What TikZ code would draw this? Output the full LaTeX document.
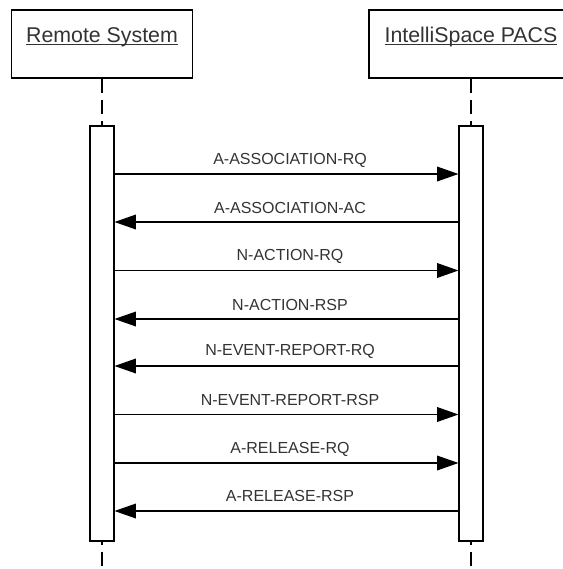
\documentclass[tikz,border=0pt]{standalone}
\usepackage{fontspec}
\setmainfont{Liberation Sans}
\usetikzlibrary{arrows.meta}
\tikzset{
  head/.style={draw, line width=1.1pt, minimum height=51pt, inner xsep=10.5pt, font=\fontsize{16}{19}\selectfont, text=black!80},
  actbar/.style={draw, fill=white, line width=0.8pt, minimum width=18pt, minimum height=311.25pt, inner sep=0pt},
  lifeline/.style={line width=0.9pt, dash pattern=on 10.5pt off 5.5pt},
  msg/.style={line width=0.9pt, -{Triangle[length=16pt,width=11pt]}},
  lbl/.style={font=\fontsize{12}{14}\selectfont, text=black!80}
}
\newcommand\ulname[1]{\underline{\smash{#1}}}

\begin{document}
\begin{tikzpicture}[x=0.75pt,y=-0.75pt]
        \useasboundingbox (0,0) rectangle (563,569);
        \node[head, minimum width=136pt] (rs) at (102,44) {\ulname{Remote System}};
        \node[head, minimum width=153pt] (pacs) at (471,44) {\ulname{IntelliSpace PACS}};

        \draw[lifeline] (rs.south) -- (102,126);
        \draw[lifeline] (pacs.south) -- (471,126);
        \node[actbar] (lbar) at (102,333.5) {};
        \node[actbar] (rbar) at (471,333.5) {};
        \draw[lifeline, dash phase=8.25pt] (lbar.south) -- (lbar.south |- 0,569);
        \draw[lifeline, dash phase=8.25pt] (rbar.south) -- (rbar.south |- 0,569);

        \draw[msg] (lbar.east |- 0,174) -- (rbar.west |- 0,174);
        \node[lbl] (m1) at (290,160) {A-ASSOCIATION-RQ};
        \draw[msg] (rbar.west |- 0,222) -- (lbar.east |- 0,222);
        \node[lbl] (m2) at (290,208) {A-ASSOCIATION-AC};
        \draw[msg] (lbar.east |- 0,270.5) -- (rbar.west |- 0,270.5);
        \node[lbl] (m3) at (290,256.5) {N-ACTION-RQ};
        \draw[msg] (rbar.west |- 0,319) -- (lbar.east |- 0,319);
        \node[lbl] (m4) at (290,305) {N-ACTION-RSP};
        \draw[msg] (rbar.west |- 0,366) -- (lbar.east |- 0,366);
        \node[lbl] (m5) at (290,351) {N-EVENT-REPORT-RQ};
        \draw[msg] (lbar.east |- 0,414.5) -- (rbar.west |- 0,414.5);
        \node[lbl] (m6) at (290,400) {N-EVENT-REPORT-RSP};
        \draw[msg] (lbar.east |- 0,463) -- (rbar.west |- 0,463);
        \node[lbl] (m7) at (290,449) {A-RELEASE-RQ};
        \draw[msg] (rbar.west |- 0,511) -- (lbar.east |- 0,511);
        \node[lbl] (m8) at (290,496) {A-RELEASE-RSP};
\end{tikzpicture}
\end{document}
